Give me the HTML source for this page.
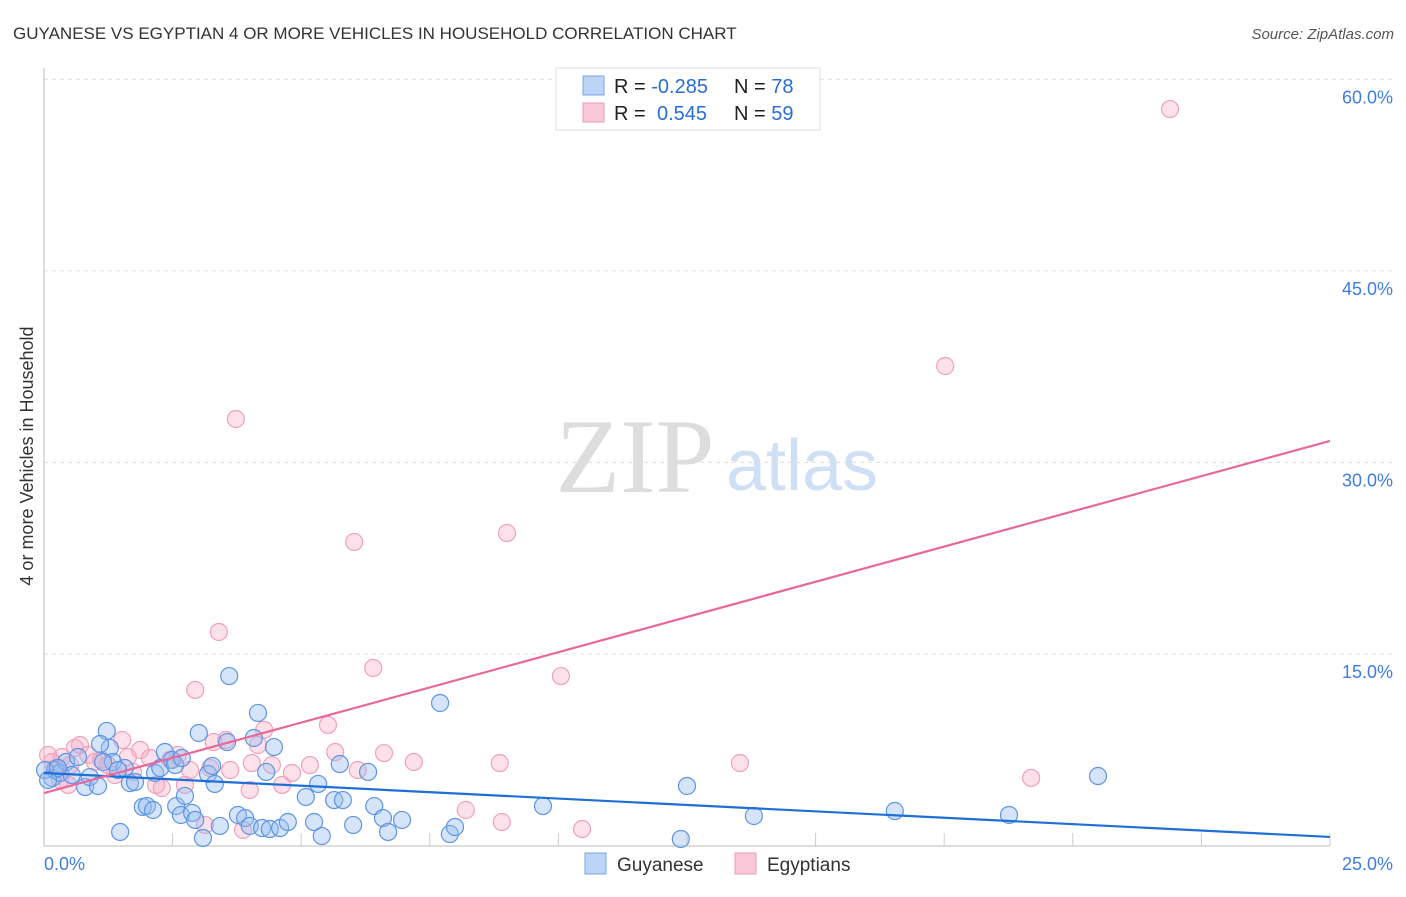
<!DOCTYPE html>
<html><head><meta charset="utf-8"><style>
body{margin:0;background:#fff;width:1406px;height:892px;overflow:hidden;font-family:"Liberation Sans",sans-serif}
</style></head><body>
<svg id="c" width="1406" height="892" xmlns="http://www.w3.org/2000/svg">
<text x="13" y="39" font-size="17" fill="#333">GUYANESE VS EGYPTIAN 4 OR MORE VEHICLES IN HOUSEHOLD CORRELATION CHART</text>
<text x="1394" y="39" font-size="15" fill="#555" font-style="italic" text-anchor="end">Source: ZipAtlas.com</text>
<text transform="translate(33,456) rotate(-90)" font-size="18" fill="#333" text-anchor="middle">4 or more Vehicles in Household</text>
<text x="635" y="492" font-size="106" fill="#ddd" font-family="Liberation Serif,serif" text-anchor="middle">ZIP</text>
<text x="802" y="490" font-size="72" fill="#cfdff5" text-anchor="middle">atlas</text>
<g id="grid"></g><g id="marks"></g>
<g>
<rect x="556" y="68" width="264" height="62" fill="#fff" stroke="#ddd"/>
<rect x="583" y="76" width="21" height="19" fill="#bcd4f5" stroke="#7aa6e6"/>
<rect x="583" y="103" width="21" height="19" fill="#f9c8d8" stroke="#ee9ab5"/>
<text x="614" y="93" font-size="20" fill="#222">R = <tspan fill="#2a6dd6">-0.285</tspan><tspan x="734">N = </tspan><tspan fill="#2a6dd6">78</tspan></text>
<text x="614" y="120" font-size="20" fill="#222">R = <tspan x="657" fill="#2a6dd6">0.545</tspan><tspan x="734">N = </tspan><tspan fill="#2a6dd6">59</tspan></text>
</g>
<g>
<rect x="585" y="853" width="21" height="21" fill="#bcd4f5" stroke="#7aa6e6"/>
<text x="617" y="871" font-size="19" fill="#333">Guyanese</text>
<rect x="735" y="853" width="21" height="21" fill="#f9c8d8" stroke="#ee9ab5"/>
<text x="767" y="871" font-size="19" fill="#333">Egyptians</text>
</g>
</svg>
<script>
const yTicks=[15,30,45,60];
const yTickLabels=["15.0%","30.0%","45.0%","60.0%"];
const xTickLabels=["0.0%","25.0%"];
const blueX=[0.16,0.21,0.31,0.43,0.54,0.66,0.80,0.89,1.05,1.22,1.28,1.34,1.48,1.57,1.67,1.77,1.92,2.00,2.12,2.16,2.26,2.35,2.49,2.57,2.66,2.74,2.88,2.94,3.01,3.09,3.19,3.27,3.32,3.42,3.56,3.60,3.77,3.91,4.00,4.08,4.16,4.24,4.32,4.39,4.47,4.59,4.74,5.09,5.25,5.33,5.40,5.64,5.75,5.81,6.01,6.30,6.42,6.59,6.69,6.96,7.70,7.89,7.99,9.70,12.38,12.50,13.80,16.54,18.76,20.49,0.02,0.27,0.08,1.09,1.15,1.44,2.55,2.68];
const blueY=[5.29,5.91,5.68,6.54,5.52,6.93,4.58,5.36,4.66,8.97,7.64,6.54,1.06,6.07,4.89,4.97,3.02,3.09,2.78,5.68,6.07,7.32,6.70,3.09,2.39,3.88,2.55,2.00,8.81,0.59,5.60,6.23,4.82,1.53,8.10,13.27,2.39,2.15,1.53,8.42,10.38,1.37,5.76,1.29,7.71,1.37,1.84,3.80,1.84,4.82,0.74,3.56,6.38,3.56,1.61,5.76,3.09,2.15,1.06,2.00,11.16,0.90,1.45,3.09,0.51,4.66,2.31,2.70,2.39,5.44,5.91,6.07,5.13,7.95,6.54,5.91,6.30,6.85];
const pinkX=[0.08,0.16,0.23,0.35,0.51,0.60,0.70,0.86,0.99,1.11,1.24,1.38,1.52,1.63,1.73,1.87,2.06,2.18,2.29,2.45,2.60,2.74,2.84,2.94,3.13,3.23,3.30,3.40,3.54,3.73,3.87,4.00,4.04,4.16,4.28,4.43,4.63,4.82,5.17,5.52,5.66,6.03,6.10,6.40,6.61,7.19,8.20,8.86,8.90,9.00,10.05,10.46,13.53,17.52,19.19,21.89,0.31,0.47,3.62];
const pinkY=[7.09,6.54,6.07,6.93,6.30,7.64,7.87,7.09,6.54,6.70,6.30,5.52,8.26,6.93,5.76,7.48,6.85,4.74,4.50,6.70,7.09,4.74,5.91,12.18,1.61,6.07,8.10,16.72,8.26,33.40,1.22,4.35,6.46,7.87,9.05,6.30,4.74,5.68,6.30,9.44,7.32,23.77,5.91,13.90,7.24,6.54,2.78,6.46,1.84,24.47,13.27,1.29,6.46,37.55,5.29,57.67,5.13,4.74,5.91];
const blueTrend=[5.68,0.67];
const pinkTrend=[4.11,31.68];
const NS="http://www.w3.org/2000/svg";
const sx=v=>44+v*51.44, sy=v=>845.5-v*12.77;
function mk(t,a,p){const e=document.createElementNS(NS,t);for(const k in a)e.setAttribute(k,a[k]);p.appendChild(e);return e;}
const g=document.getElementById('grid'), m=document.getElementById('marks');
yTicks.forEach((v,i)=>{
 const l=mk('line',{x1:44,x2:1394,y1:sy(v),y2:sy(v),stroke:'#ddd','stroke-dasharray':'4,4'},g);
 
 
 const t=mk('text',{x:1393,y:sy(v)+24,'font-size':18,fill:'#3f7de0','text-anchor':'end'},g);
 t.textContent=yTickLabels[i];
 
 
});
mk('line',{x1:44,x2:44,y1:68,y2:846,stroke:'#bbb'},g);
mk('line',{x1:44,x2:1330,y1:846,y2:846,stroke:'#bbb'},g);
for(let i=1;i<=10;i++){const x=sx(i*2.5);mk('line',{x1:x,x2:x,y1:833,y2:846,stroke:'#ccc'},g);}
[[0,'start',44],[1,'end',1393]].forEach(([i,a,x])=>{
 const t=mk('text',{x:x,y:870,'font-size':18,fill:'#3f7de0','text-anchor':a},g);
 t.textContent=xTickLabels[i];
 
 
});
pinkX.forEach((x,i)=>{
 const c=mk('circle',{cx:sx(x),cy:sy(pinkY[i]),r:8.5,fill:'rgba(246,170,196,0.35)',stroke:'#f0a0bb','stroke-width':1.2},m);
 
 
});
blueX.forEach((x,i)=>{
 const c=mk('circle',{cx:sx(x),cy:sy(blueY[i]),r:8.5,fill:'rgba(150,188,240,0.4)',stroke:'#5e95e2','stroke-width':1.2},m);
 
 
});
const bl=mk('line',{x1:sx(0),y1:sy(blueTrend[0]),x2:sx(25),y2:sy(blueTrend[1]),stroke:'#1f6fd6','stroke-width':2.2},m);


const pl=mk('line',{x1:sx(0),y1:sy(pinkTrend[0]),x2:sx(25),y2:sy(pinkTrend[1]),stroke:'#e8689a','stroke-width':2.2},m);


</script>
</body></html>
